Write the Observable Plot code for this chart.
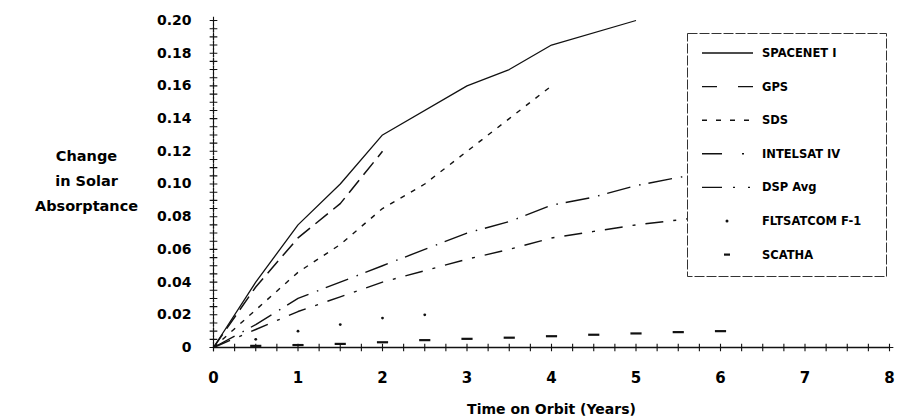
<!DOCTYPE html>
<html>
<head>
<meta charset="utf-8">
<script src="https://cdn.jsdelivr.net/npm/d3@7"></script>
<script src="https://cdn.jsdelivr.net/npm/@observablehq/plot@0.6"></script>
<style>
  html, body { margin: 0; padding: 0; background: #fff; }
  #chart { position: relative; width: 899px; height: 420px; }
  #legend { position: absolute; left: 687px; top: 33px; }
</style>
</head>
<body>
<div id="chart"></div>
<script>
// Change in solar absorptance of thermal control surfaces vs. time on orbit
const spacenetYears = [0, 0.5, 1, 1.5, 2, 3, 3.5, 4, 5];
const spacenetValues = [0, 0.04, 0.075, 0.1, 0.13, 0.16, 0.17, 0.185, 0.2];

const gpsYears = [0, 0.5, 1, 1.5, 2];
const gpsValues = [0, 0.037, 0.067, 0.088, 0.12];

const sdsYears = [0, 0.5, 1, 1.5, 2, 2.5, 3, 3.5, 4];
const sdsValues = [0, 0.023, 0.046, 0.063, 0.085, 0.1, 0.12, 0.14, 0.16];

const intelsatYears = [0, 0.5, 1, 1.5, 2, 2.5, 3, 3.5, 4, 4.5, 5, 5.5, 6];
const intelsatValues = [0, 0.014, 0.03, 0.04, 0.05, 0.06, 0.07, 0.077, 0.087, 0.092, 0.099, 0.104, 0.108];

const dspYears = [0, 0.5, 1, 1.5, 2, 2.5, 3, 3.5, 4, 4.5, 5, 5.5, 6];
const dspValues = [0, 0.011, 0.022, 0.031, 0.04, 0.047, 0.054, 0.06, 0.067, 0.071, 0.075, 0.078, 0.081];

const fltsatcomYears = [0.5, 1, 1.5, 2, 2.5];
const fltsatcomValues = [0.005, 0.01, 0.014, 0.018, 0.02];

const scathaYears = [0.5, 1, 1.5, 2, 2.5, 3, 3.5, 4, 4.5, 5, 5.5, 6];
const scathaValues = [0.001, 0.0015, 0.0022, 0.0032, 0.0045, 0.0053, 0.006, 0.0069, 0.0078, 0.0086, 0.0094, 0.01];

const seriesNames = ["SPACENET I", "GPS", "SDS", "INTELSAT IV", "DSP Avg", "FLTSATCOM F-1", "SCATHA"];

const yTicks = [0, 0.02, 0.04, 0.06, 0.08, 0.10, 0.12, 0.14, 0.16, 0.18, 0.20];
const xTicks = [0, 1, 2, 3, 4, 5, 6, 7, 8];

const yTitle = "Change\nin Solar\nAbsorptance";
const xTitle = "Time on Orbit (Years)";

const toRows = (years, values) => years.map((x, i) => ({x, y: values[i]}));

const lineSeries = [
  {name: seriesNames[0], rows: toRows(spacenetYears, spacenetValues), dash: null, width: 1.3},
  {name: seriesNames[1], rows: toRows(gpsYears, gpsValues), dash: "16,7", width: 1.5},
  {name: seriesNames[2], rows: toRows(sdsYears, sdsValues), dash: "5,7", width: 1.4},
  {name: seriesNames[3], rows: toRows(intelsatYears, intelsatValues), dash: "24,9,1.5,8", width: 1.4},
  {name: seriesNames[4], rows: toRows(dspYears, dspValues), dash: "18,10,3,10", width: 1.4}
];
const fltRows = toRows(fltsatcomYears, fltsatcomValues);
const scathaRows = toRows(scathaYears, scathaValues);

// minor axis marks: every 0.005 on y, every quarter year on x
const yMinor = d3.range(0, 0.2001, 0.005);
const xMinor = d3.range(0, 8.001, 0.25);

// short horizontal bar used for the SCATHA readings
const barSymbol = {
  draw(context, size) {
    const w = Math.sqrt(size) * 0.9;
    context.moveTo(-w, 0);
    context.lineTo(w, 0);
  }
};

const chart = Plot.plot({
  width: 899,
  height: 420,
  marginLeft: 213,
  marginRight: 10,
  marginTop: 20,
  marginBottom: 73,
  x: {domain: [0, 8]},
  y: {domain: [0, 0.2]},
  style: {fontFamily: "'DejaVu Sans', sans-serif", fontWeight: "bold", color: "#000", background: "#fff"},
  marks: [
    Plot.axisY({ticks: yTicks, tickSize: 0, tickPadding: 22, fontSize: 14, label: null,
      tickFormat: d => d === 0 ? "0" : d.toFixed(2)}),
    Plot.axisX({ticks: xTicks, tickSize: 0, tickPadding: 25, fontSize: 15, label: null,
      tickFormat: d => String(d)}),
    Plot.ruleX([0], {stroke: "#111", strokeWidth: 1.2, strokeDasharray: "2,1.5"}),
    Plot.ruleY([0], {stroke: "#111", strokeWidth: 1.6}),
    Plot.dot(yMinor, {x: 0, y: d => d, symbol: "plus", r: 2.6, stroke: "#111", strokeWidth: 1.1}),
    Plot.dot(xMinor, {x: d => d, y: 0, symbol: "plus", r: 2.6, stroke: "#111", strokeWidth: 1.1}),
    ...lineSeries.map(s => Plot.line(s.rows, {
      x: "x", y: "y", stroke: "#111", strokeWidth: s.width,
      strokeDasharray: s.dash, strokeLinejoin: "round", strokeLinecap: "butt"
    })),
    Plot.dot(fltRows, {x: "x", y: "y", r: 1.4, fill: "#111", stroke: null}),
    Plot.dot(scathaRows, {x: "x", y: "y", symbol: barSymbol, r: 3.5, stroke: "#111", strokeWidth: 2.2, fill: "none"}),
    Plot.text([yTitle], {frameAnchor: "left", dx: -127, dy: -6, fontSize: 14.5, lineHeight: 1.72,
      textAnchor: "middle", fill: "#000"}),
    Plot.text([xTitle], {frameAnchor: "bottom", dy: 66, fontSize: 14, textAnchor: "middle", fill: "#000"})
  ]
});

const container = document.getElementById("chart");
container.appendChild(chart);

// Legend box drawn over the upper-right of the plot area
const legendStyles = [
  {type: "line", dash: null},
  {type: "line", dash: "15,21"},
  {type: "line", dash: "5,9"},
  {type: "line", dash: "20,20,2,20"},
  {type: "line", dash: "20,11,2,13,2,20"},
  {type: "dot"},
  {type: "bar"}
];
const lw = 200, lh = 244;
const legend = d3.select(container).append("svg")
  .attr("id", "legend")
  .attr("width", lw)
  .attr("height", lh);
legend.append("rect")
  .attr("x", 0.5).attr("y", 0.5)
  .attr("width", lw - 1).attr("height", lh - 1)
  .attr("fill", "#fff")
  .attr("stroke", "#333")
  .attr("stroke-width", 1)
  .attr("stroke-dasharray", "10,2");
seriesNames.forEach((name, i) => {
  const cy = 20 + i * 33.6;
  const st = legendStyles[i];
  if (st.type === "line") {
    legend.append("line")
      .attr("x1", 15).attr("x2", 66).attr("y1", cy).attr("y2", cy)
      .attr("stroke", "#111").attr("stroke-width", 1.4)
      .attr("stroke-dasharray", st.dash);
  } else if (st.type === "dot") {
    legend.append("circle").attr("cx", 40).attr("cy", cy).attr("r", 1.5).attr("fill", "#111");
  } else {
    legend.append("line")
      .attr("x1", 37).attr("x2", 43).attr("y1", cy).attr("y2", cy)
      .attr("stroke", "#111").attr("stroke-width", 2.2);
  }
  legend.append("text")
    .attr("x", 75).attr("y", cy)
    .attr("dy", "0.35em")
    .attr("font-family", "'DejaVu Sans', sans-serif")
    .attr("font-weight", "bold")
    .attr("font-size", 11.5)
    .attr("fill", "#000")
    .text(name);
});
</script>
</body>
</html>
